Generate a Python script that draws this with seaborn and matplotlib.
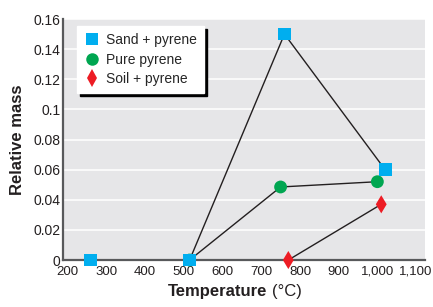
import pandas as pd
import matplotlib
matplotlib.use("Agg")
import matplotlib.pyplot as plt
from matplotlib.lines import Line2D
from matplotlib.ticker import FuncFormatter
import seaborn as sns

sns.set_theme(style="white")
plt.rcParams["font.family"] = ["Liberation Sans Narrow", "Liberation Sans", "DejaVu Sans"]

BG    = "#e6e6e8"
INK   = "#231f20"
BLUE  = "#00aeef"
GREEN = "#00a651"
RED   = "#ed1c24"

# series data (temperature in deg C, relative mass)
pure_temp = [515, 750, 1000]
pure_mass = [0.0, 0.0485, 0.052]
sand_temp = [260, 515, 760, 1020]
sand_mass = [0.0, 0.0, 0.15, 0.06]
soil_temp = [770, 1010]
soil_mass = [0.0, 0.037]

names   = ["Sand + pyrene", "Pure pyrene", "Soil + pyrene"]
colors  = {"Sand + pyrene": BLUE, "Pure pyrene": GREEN, "Soil + pyrene": RED}
markers = {"Sand + pyrene": "s", "Pure pyrene": "o", "Soil + pyrene": "d"}

x_ticks = [200, 300, 400, 500, 600, 700, 800, 900, 1000, 1100]
y_ticks = [0, 0.02, 0.04, 0.06, 0.08, 0.1, 0.12, 0.14, 0.16]

# pure pyrene first so the sand square covers the shared 515 point
df = pd.concat([
    pd.DataFrame({"temp": pure_temp, "mass": pure_mass, "series": "Pure pyrene"}),
    pd.DataFrame({"temp": sand_temp, "mass": sand_mass, "series": "Sand + pyrene"}),
    pd.DataFrame({"temp": soil_temp, "mass": soil_mass, "series": "Soil + pyrene"}),
], ignore_index=True)

fig = plt.figure(figsize=(4.33, 3.07), dpi=100)
ax = fig.add_axes([0.1455, 0.153, 0.836, 0.785])
ax.set_facecolor(BG)

sns.lineplot(data=df, x="temp", y="mass", hue="series", units="series",
             estimator=None, sort=False, palette={n: INK for n in names},
             linewidth=1.0, legend=False, ax=ax, zorder=2)
sns.scatterplot(data=df, x="temp", y="mass", hue="series", style="series",
                palette=colors, markers=markers, s=85, linewidth=0,
                legend=False, ax=ax, zorder=3, clip_on=False)

ax.set_xlim(188, 1123)
ax.set_ylim(0, 0.16)
ax.set_xticks(x_ticks)
ax.set_yticks(y_ticks)
ax.xaxis.set_major_formatter(FuncFormatter(lambda v, p: f"{int(v):,}"))
ax.yaxis.set_major_formatter(FuncFormatter(lambda v, p: "0" if v == 0 else f"{v:g}"))
ax.tick_params(axis="y", length=0, labelsize=10, labelcolor=INK, pad=2)
ax.tick_params(axis="x", length=0, labelsize=9.5, labelcolor=INK, pad=4)

ax.yaxis.grid(True, color="white", linewidth=1.1)
ax.xaxis.grid(False)
ax.set_axisbelow(True)
for side in ["top", "right"]:
    ax.spines[side].set_visible(False)
for side in ["left", "bottom"]:
    ax.spines[side].set_color("#58595b")
    ax.spines[side].set_linewidth(1.6)

ax.set_xlabel("")
ax.set_ylabel("Relative mass", fontsize=12, fontweight="bold", color=INK, labelpad=6)
ax.annotate("Temperature", xy=(0.5, 0), xycoords="axes fraction",
            xytext=(17, -17), textcoords="offset points", ha="right", va="top",
            fontsize=12, fontweight="bold", color=INK)
ax.annotate("(\u00b0C)", xy=(0.5, 0), xycoords="axes fraction",
            xytext=(20, -17), textcoords="offset points", ha="left", va="top",
            fontsize=12, color=INK)

handles = [Line2D([], [], linestyle="none", marker=markers[n], color=colors[n],
                  markeredgewidth=0, markersize=9) for n in names]
leg = ax.legend(handles, names, loc="upper left", bbox_to_anchor=(0.039, 0.971),
                borderaxespad=0, frameon=True, fancybox=False,
                shadow={"color": "black", "alpha": 1}, fontsize=10,
                handletextpad=0.4, labelspacing=0.4, borderpad=0.5,
                handlelength=1.2)
leg.get_frame().set_facecolor("white")
leg.get_frame().set_edgecolor("white")
leg.get_frame().set_alpha(1)

fig.savefig("out.png", dpi=100)
